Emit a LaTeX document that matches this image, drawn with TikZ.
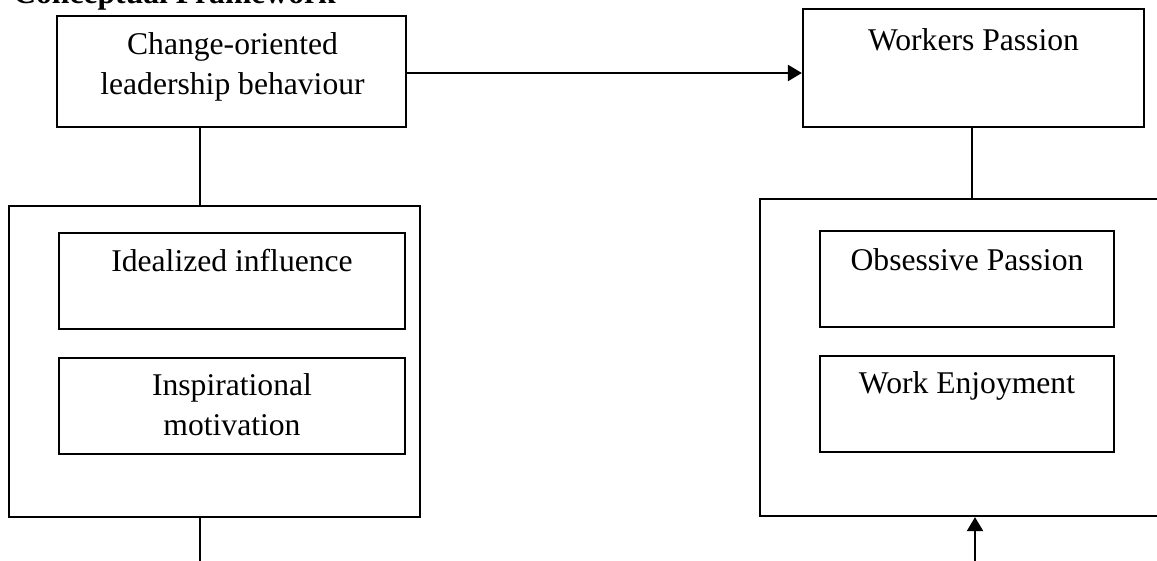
\documentclass[tikz,border=0pt]{standalone}
\usepackage{fontspec}
\setmainfont{Liberation Serif}
\usetikzlibrary{arrows.meta, calc}

\tikzset{
    box/.style={draw, line width=1.3pt, inner sep=0pt},
    boxtext/.style={anchor=base, align=center, inner sep=0pt},
    link/.style={line width=0.8pt},
    arrowlink/.style={line width=1.3pt, -{Triangle[length=0.28cm, width=0.32cm]}}
}

\begin{document}
\begin{tikzpicture}[x=0.02cm, y=-0.02cm, font=\fontsize{18}{22.8}\selectfont]

        \useasboundingbox (0, 0) rectangle (1157, 561);

        % ---------------------------------------------------
        % 1. Title (cut at the top edge)
        % ---------------------------------------------------
        \node[anchor=base west, inner sep=0pt, font=\fontsize{18}{22.8}\selectfont\bfseries] (title) at (13, 4) {Conceptual Framework};

        % ---------------------------------------------------
        % 2. Boxes
        % ---------------------------------------------------

        % Change-oriented leadership (top left)
        % (base of a two-line node is its last line)
        \node[box, minimum width=6.98cm, minimum height=2.22cm] (lead) at (231.5, 71.5) {};
        \node[boxtext] (leadtxt) at ($(lead.north)+(1, 80)$) {Change-oriented\\leadership behaviour};

        % Workers Passion (top right)
        \node[box, minimum width=6.82cm, minimum height=2.36cm] (wp) at (973.5, 68) {};
        \node[boxtext] (wptxt) at ($(wp.north)+(0, 43)$) {Workers Passion};

        % Left outer box and its two dimensions
        \node[box, minimum width=8.22cm, minimum height=6.22cm] (lo) at (214.5, 361.5) {};
        \node[box, minimum width=6.92cm, minimum height=1.92cm] (ideal) at (232, 281) {};
        \node[boxtext] (idealtxt) at ($(ideal.north)+(0, 40)$) {Idealized influence};
        \node[box, minimum width=6.92cm, minimum height=1.92cm] (insp) at (232, 406) {};
        \node[boxtext] (insptxt) at ($(insp.north)+(0, 79)$) {Inspirational\\motivation};

        % Right outer box (runs past the right edge) and its two dimensions
        \node[box, minimum width=8.4cm, minimum height=6.34cm] (ro) at (970, 357.5) {};
        \node[box, minimum width=5.88cm, minimum height=1.92cm] (obs) at (967, 279) {};
        \node[boxtext] (obstxt) at ($(obs.north)+(0, 41)$) {Obsessive Passion};
        \node[box, minimum width=5.88cm, minimum height=1.92cm] (enjoy) at (967, 404) {};
        \node[boxtext] (enjoytxt) at ($(enjoy.north)+(0, 39)$) {Work Enjoyment};

        % ---------------------------------------------------
        % 3. Connections
        % ---------------------------------------------------
        \coordinate (lx) at (200, 0);
        \coordinate (lend) at (200, 570);
        \coordinate (rend) at (975, 570);

        % Leadership -> Workers Passion
        \draw[arrowlink] ($(lead.east)+(0, 1.5)$) -- ($(lead.east -| wp.west)+(0, 1.5)$);

        % Leadership down to its dimensions, and on past the bottom
        \draw[link] (lx |- lead.south) -- (lx |- lo.north);
        \draw[link] (lx |- lo.south) -- (lend);

        % Workers Passion down to its dimensions
        \draw[link] ($(wp.south)+(-1.5, 0)$) -- ($(wp.south |- ro.north)+(-1.5, 0)$);

        % Arrow coming up from below
        \draw[arrowlink] (rend) -- (rend |- ro.south);

    \end{tikzpicture}
\end{document}
